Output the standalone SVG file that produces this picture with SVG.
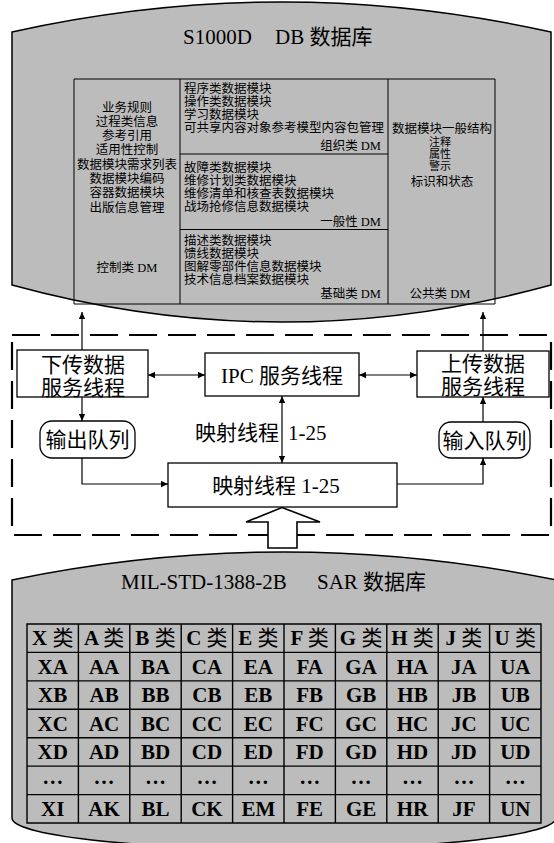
<svg xmlns="http://www.w3.org/2000/svg" width="554" height="843" viewBox="0 0 554 843">
<style>
text{font-family:"Liberation Serif","Noto Sans CJK SC",serif;fill:#000}
.s{font-size:12.5px}
.xs{font-size:11px}
.m{font-size:21px}
.ti{font-size:21px}
.c{text-anchor:middle}
.e{text-anchor:end}
.tb{font-size:21px;font-weight:bold;text-anchor:middle}
.n{font-weight:normal}
.cyl{fill:#bcbcbc;stroke:#000;stroke-width:1.5}
.box{fill:#fff;stroke:#000;stroke-width:1.3}
.ln{fill:none;stroke:#000;stroke-width:1}
.con{fill:none;stroke:#000;stroke-width:1.2}
</style>
<defs>
<marker id="ah" viewBox="0 0 10 10" refX="10" refY="5" markerWidth="9" markerHeight="7" markerUnits="userSpaceOnUse" orient="auto-start-reverse"><path d="M0,0.5 L10,5 L0,9.5 z" fill="#000"/></marker>
</defs>

<g id="db-s1000d">
<path class="cyl" d="M12,32 Q282,-28 551,32 L551,285 Q282,359 12,285 Z"/>
<text class="ti" x="183" y="44">S1000D</text>
<text class="ti" x="275" y="44">DB 数据库</text>
<path class="ln" d="M74,79 H495 V304 H74 Z M180,79 V304 M388,79 V304 M180,154 H388 M180,229.5 H388"/>
<text class="s c" x="127" y="111.5">业务规则</text>
<text class="s c" x="127" y="125.8">过程类信息</text>
<text class="s c" x="127" y="140.1">参考引用</text>
<text class="s c" x="127" y="154.4">适用性控制</text>
<text class="s c" x="127" y="168.7">数据模块需求列表</text>
<text class="s c" x="127" y="183">数据模块编码</text>
<text class="s c" x="127" y="197.3">容器数据模块</text>
<text class="s c" x="127" y="211.5">出版信息管理</text>
<text class="s c" x="127" y="271.5">控制类 DM</text>
<text class="s" x="184" y="92.5">程序类数据模块</text>
<text class="s" x="184" y="105.5">操作类数据模块</text>
<text class="s" x="184" y="118.5">学习数据模块</text>
<text class="s" x="184" y="131.5">可共享内容对象参考模型内容包管理</text>
<text class="s e" x="381" y="149.5">组织类 DM</text>
<text class="s" x="184" y="171.5">故障类数据模块</text>
<text class="s" x="184" y="184.5">维修计划类数据模块</text>
<text class="s" x="184" y="197.5">维修清单和核查表数据模块</text>
<text class="s" x="184" y="210.5">战场抢修信息数据模块</text>
<text class="s e" x="381" y="225.5">一般性 DM</text>
<text class="s" x="184" y="245">描述类数据模块</text>
<text class="s" x="184" y="258">馈线数据模块</text>
<text class="s" x="184" y="271">图解零部件信息数据模块</text>
<text class="s" x="184" y="284">技术信息档案数据模块</text>
<text class="s e" x="381" y="298">基础类 DM</text>
<text class="s c" x="442" y="132.5">数据模块一般结构</text>
<text class="xs c" x="440" y="146">注释</text>
<text class="xs c" x="440" y="158">属性</text>
<text class="xs c" x="440" y="170">警示</text>
<text class="s c" x="442" y="185.5">标识和状态</text>
<text class="s c" x="440" y="298">公共类 DM</text>
</g>

<g id="frame">
<rect x="12" y="335" width="539" height="200" fill="none" stroke="#000" stroke-width="2.2" stroke-dasharray="28 11"/>
</g>

<g id="down-thread">
<rect class="box" x="17" y="350" width="131" height="47"/>
<text class="m c" x="83" y="372">下传数据</text>
<text class="m c" x="83" y="394.5">服务线程</text>
</g>
<g id="ipc-thread">
<rect class="box" x="205" y="353" width="154" height="43"/>
<text class="m c" x="282" y="383">IPC 服务线程</text>
</g>
<g id="up-thread">
<rect class="box" x="417" y="351" width="132" height="46"/>
<text class="m c" x="483" y="371">上传数据</text>
<text class="m c" x="483" y="393.5">服务线程</text>
</g>
<g id="out-queue">
<rect class="box" x="40" y="421" width="95" height="37" rx="12"/>
<text class="m c" x="87.5" y="447">输出队列</text>
</g>
<g id="in-queue">
<rect class="box" x="439" y="422" width="91" height="36" rx="12"/>
<text class="m c" x="484.5" y="447.5">输入队列</text>
</g>
<g id="map-thread">
<rect class="box" x="168" y="463" width="229" height="44"/>
<text class="m c" x="276" y="493">映射线程 1-25</text>
</g>
<g id="map-label">
<text class="m" x="195" y="440">映射线程 <tspan x="288">1-25</tspan></text>
</g>

<g id="connectors">
<path class="con" d="M82,350 V312" marker-end="url(#ah)"/>
<path class="con" d="M483,351 V312" marker-end="url(#ah)"/>
<path class="con" d="M148,375 H205" marker-start="url(#ah)" marker-end="url(#ah)"/>
<path class="con" d="M359,375 H417" marker-start="url(#ah)" marker-end="url(#ah)"/>
<path class="con" d="M82,397 V421" marker-end="url(#ah)"/>
<path class="con" d="M82,458 V484 H168" marker-end="url(#ah)"/>
<path class="con" d="M282,396 V463" marker-start="url(#ah)" marker-end="url(#ah)"/>
<path class="con" d="M397,484 H483 V458" marker-end="url(#ah)"/>
<path class="con" d="M483,422 V397" marker-end="url(#ah)"/>
<path d="M268,548 V522 H246 L282,507.5 L320,522 H297 V548 Z" fill="#fff" stroke="#000" stroke-width="1.6"/>
</g>

<g id="db-sar">
<path class="cyl" d="M12,580 Q284,524 556,580 L556,818 A272,31 0 0 1 12,818 Z"/>
<text class="ti" x="121" y="589">MIL-STD-1388-2B</text>
<text class="ti" x="317" y="589">SAR 数据库</text>
<path fill="none" stroke="#000" stroke-width="1.4" d="M27,624 H541 V823 H27 Z M78.4,624 V823 M129.8,624 V823 M181.2,624 V823 M232.6,624 V823 M284,624 V823 M335.4,624 V823 M386.8,624 V823 M438.2,624 V823 M489.6,624 V823 M27,652.4 H541 M27,680.9 H541 M27,709.3 H541 M27,737.7 H541 M27,766.1 H541 M27,794.6 H541"/>
<text class="tb" y="645"><tspan x="52.7">X <tspan class="n">类</tspan></tspan><tspan x="104.1">A <tspan class="n">类</tspan></tspan><tspan x="155.5">B <tspan class="n">类</tspan></tspan><tspan x="206.9">C <tspan class="n">类</tspan></tspan><tspan x="258.3">E <tspan class="n">类</tspan></tspan><tspan x="309.7">F <tspan class="n">类</tspan></tspan><tspan x="361.1">G <tspan class="n">类</tspan></tspan><tspan x="412.5">H <tspan class="n">类</tspan></tspan><tspan x="463.9">J <tspan class="n">类</tspan></tspan><tspan x="515.3">U <tspan class="n">类</tspan></tspan></text>
<text class="tb" y="673.5"><tspan x="52.7">XA</tspan><tspan x="104.1">AA</tspan><tspan x="155.5">BA</tspan><tspan x="206.9">CA</tspan><tspan x="258.3">EA</tspan><tspan x="309.7">FA</tspan><tspan x="361.1">GA</tspan><tspan x="412.5">HA</tspan><tspan x="463.9">JA</tspan><tspan x="515.3">UA</tspan></text>
<text class="tb" y="702"><tspan x="52.7">XB</tspan><tspan x="104.1">AB</tspan><tspan x="155.5">BB</tspan><tspan x="206.9">CB</tspan><tspan x="258.3">EB</tspan><tspan x="309.7">FB</tspan><tspan x="361.1">GB</tspan><tspan x="412.5">HB</tspan><tspan x="463.9">JB</tspan><tspan x="515.3">UB</tspan></text>
<text class="tb" y="730.5"><tspan x="52.7">XC</tspan><tspan x="104.1">AC</tspan><tspan x="155.5">BC</tspan><tspan x="206.9">CC</tspan><tspan x="258.3">EC</tspan><tspan x="309.7">FC</tspan><tspan x="361.1">GC</tspan><tspan x="412.5">HC</tspan><tspan x="463.9">JC</tspan><tspan x="515.3">UC</tspan></text>
<text class="tb" y="759"><tspan x="52.7">XD</tspan><tspan x="104.1">AD</tspan><tspan x="155.5">BD</tspan><tspan x="206.9">CD</tspan><tspan x="258.3">ED</tspan><tspan x="309.7">FD</tspan><tspan x="361.1">GD</tspan><tspan x="412.5">HD</tspan><tspan x="463.9">JD</tspan><tspan x="515.3">UD</tspan></text>
<text class="tb" y="784"><tspan x="52.7">…</tspan><tspan x="104.1">…</tspan><tspan x="155.5">…</tspan><tspan x="206.9">…</tspan><tspan x="258.3">…</tspan><tspan x="309.7">…</tspan><tspan x="361.1">…</tspan><tspan x="412.5">…</tspan><tspan x="463.9">…</tspan><tspan x="515.3">…</tspan></text>
<text class="tb" y="815.5"><tspan x="52.7">XI</tspan><tspan x="104.1">AK</tspan><tspan x="155.5">BL</tspan><tspan x="206.9">CK</tspan><tspan x="258.3">EM</tspan><tspan x="309.7">FE</tspan><tspan x="361.1">GE</tspan><tspan x="412.5">HR</tspan><tspan x="463.9">JF</tspan><tspan x="515.3">UN</tspan></text>
</g>
</svg>
